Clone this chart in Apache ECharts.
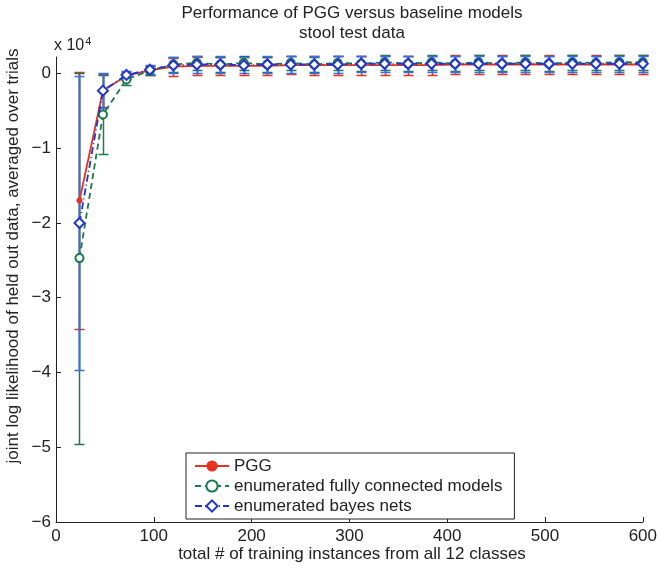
<!DOCTYPE html>
<html><head><meta charset="utf-8">
<script src="https://cdn.jsdelivr.net/npm/echarts@6/dist/echarts.min.js"></script>
<style>html,body{margin:0;padding:0;background:#fff}#c{width:660px;height:568px}</style>
</head><body><div id="c"></div>
<script>
// x positions (training instances)
var xs = [24,48,72,96,120,144,168,192,216,240,264,288,312,336,360,384,408,432,456,480,504,528,552,576,600];
// values in units of 1e4
var pggMean = [-1.70,-0.23,-0.03,0.04,0.09,0.10,0.10,0.10,0.10,0.11,0.11,0.11,0.11,0.11,0.11,0.11,0.12,0.12,0.12,0.12,0.12,0.12,0.12,0.12,0.12];
var pggErr  = [1.72,0.22,0.05,0.06,0.12,0.12,0.12,0.12,0.12,0.12,0.13,0.13,0.13,0.13,0.13,0.13,0.13,0.13,0.13,0.13,0.13,0.13,0.13,0.13,0.13];
var fcMean  = [-2.47,-0.55,-0.08,0.04,0.12,0.14,0.12,0.14,0.12,0.14,0.12,0.14,0.13,0.15,0.13,0.15,0.13,0.15,0.13,0.15,0.13,0.15,0.14,0.15,0.15];
var fcErr   = [2.48,0.53,0.07,0.06,0.10,0.10,0.10,0.10,0.10,0.10,0.10,0.10,0.10,0.10,0.10,0.10,0.10,0.10,0.10,0.10,0.10,0.10,0.10,0.10,0.10];
var bnMean  = [-2.00,-0.23,-0.02,0.05,0.11,0.12,0.12,0.11,0.12,0.12,0.12,0.12,0.13,0.13,0.13,0.13,0.13,0.13,0.13,0.13,0.13,0.13,0.13,0.13,0.13];
var bnErr   = [1.97,0.23,0.05,0.06,0.11,0.11,0.11,0.11,0.11,0.11,0.11,0.11,0.11,0.11,0.11,0.11,0.11,0.11,0.11,0.11,0.11,0.11,0.11,0.11,0.11];
var names = ['PGG','enumerated fully connected models','enumerated bayes nets'];
var xTicks = [0,100,200,300,400,500,600];
var yTicks = [-6,-5,-4,-3,-2,-1,0];

var RED='#e8321e', GREEN='#1b7a4c', BLUE='#2236cc', BLUE_BAR='#3a6ee6';
var FONT='Liberation Sans';
var FS=17;

function pairs(m){return xs.map(function(x,i){return [x,m[i]];});}
function triples(m,e){return xs.map(function(x,i){return [x,m[i],e[i]];});}
function errRender(color, w){
  return function(params, api){
    var x=api.value(0), y=api.value(1), e=api.value(2);
    var t=api.coord([x,y+e]), b=api.coord([x,y-e]);
    var px=Math.round(t[0])+0.5, ty=Math.round(t[1])+0.5, by=Math.round(b[1])+0.5;
    var hw=5;
    return {type:'group',children:[
      {type:'line',shape:{x1:px,y1:ty,x2:px,y2:by},style:{stroke:color,lineWidth:w}},
      {type:'line',shape:{x1:px-hw,y1:ty,x2:px+hw,y2:ty},style:{stroke:color,lineWidth:1.5}},
      {type:'line',shape:{x1:px-hw,y1:by,x2:px+hw,y2:by},style:{stroke:color,lineWidth:1.5}}
    ]};
  };
}

var chart = echarts.init(document.getElementById('c'));
chart.setOption({
  animation:false,
  backgroundColor:'#fff',
  textStyle:{fontFamily:FONT},
  grid:{left:56,right:12,top:57,bottom:46},
  graphic:[
    {type:'text',x:352,y:5,style:{text:'Performance of PGG versus baseline models',font:FS+'px "Liberation Sans"',fill:'#222',textAlign:'center'}},
    {type:'text',x:352,y:25,style:{text:'stool test data',font:FS+'px "Liberation Sans"',fill:'#222',textAlign:'center'}},
    {type:'text',x:54,y:36,style:{text:'x 10{s|4}',rich:{s:{fontSize:11,verticalAlign:'top',padding:[0,0,8,1]}},font:'16px "Liberation Sans"',fill:'#222'}},
    {type:'text',x:352,y:546,style:{text:'total # of training instances from all 12 classes',font:FS+'px "Liberation Sans"',fill:'#222',textAlign:'center'}},
    {type:'text',x:5,y:256,rotation:Math.PI/2,style:{text:'joint log likelihood of held out data, averaged over trials',font:FS+'px "Liberation Sans"',fill:'#222',textAlign:'center',textVerticalAlign:'top'}}
  ],
  legend:{
    orient:'vertical',left:186,top:453,
    padding:[3,12,3,8],itemGap:0,itemWidth:34,itemHeight:14,
    borderColor:'#222',borderWidth:1,backgroundColor:'#fff',
    textStyle:{fontSize:FS,lineHeight:20,color:'#222',fontFamily:FONT},
    data:names
  },
  xAxis:{
    type:'value',min:0,max:600,interval:100,
    axisLine:{onZero:false,lineStyle:{color:'#222'}},
    axisTick:{inside:true,length:5,lineStyle:{color:'#222'}},
    axisLabel:{fontSize:FS,color:'#222',margin:6,fontFamily:FONT,
      formatter:function(v){return xTicks.indexOf(v)>=0?String(v):'';}},
    splitLine:{show:false}
  },
  yAxis:{
    type:'value',min:-6,max:0.22,interval:1,
    axisLine:{lineStyle:{color:'#222'}},
    axisTick:{inside:true,length:5,lineStyle:{color:'#222'}},
    axisLabel:{fontSize:FS,color:'#222',margin:5,fontFamily:FONT,showMaxLabel:false,
      formatter:function(v){return yTicks.indexOf(v)>=0?String(v).replace('-','\u2212'):'';}},
    splitLine:{show:false}
  },
  series:[
    {type:'custom',name:'err-pgg',renderItem:errRender(RED,1.5),data:triples(pggMean,pggErr),z:2,encode:{x:0,y:1},silent:true},
    {type:'custom',name:'err-fc',renderItem:errRender(GREEN,1.5),data:triples(fcMean,fcErr),z:3,encode:{x:0,y:1},silent:true},
    {type:'custom',name:'err-bn',renderItem:errRender(BLUE_BAR,2),data:triples(bnMean,bnErr),z:4,encode:{x:0,y:1},silent:true},
    {type:'line',name:names[0],data:pairs(pggMean),z:5,color:RED,
      lineStyle:{color:RED,width:1.8},symbol:'circle',symbolSize:6,itemStyle:{color:RED}},
    {type:'line',name:names[1],data:pairs(fcMean),z:6,color:GREEN,
      lineStyle:{color:GREEN,width:1.8,type:[6,4]},symbol:'emptyCircle',symbolSize:8,itemStyle:{color:GREEN,borderWidth:1.8}},
    {type:'line',name:names[2],data:pairs(bnMean),z:7,color:BLUE,
      lineStyle:{color:BLUE,width:1.8,type:[7,3,1,3]},symbol:'emptyDiamond',symbolSize:10,itemStyle:{color:BLUE,borderWidth:1.8}}
  ]
});
</script></body></html>
